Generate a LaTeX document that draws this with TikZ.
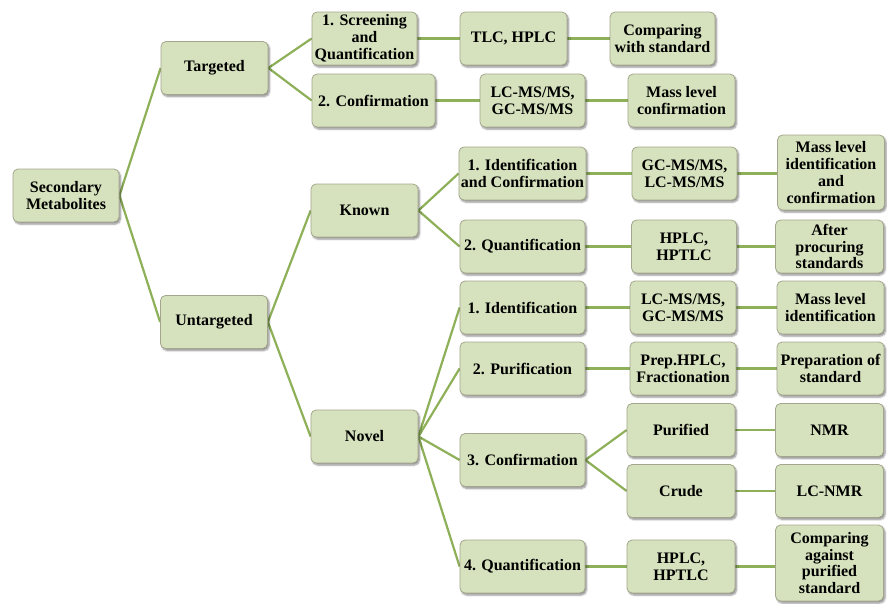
\documentclass[tikz,border=0pt]{standalone}
\usepackage{fontspec}
\setmainfont{Liberation Serif}
\usepackage{tikz}
\usetikzlibrary{positioning,shadows.blur,backgrounds}
\definecolor{Sage}{HTML}{D6E2BD}
\definecolor{Rim}{HTML}{A3A68C}
\definecolor{Olive}{HTML}{8DB058}
\tikzset{
  box/.style={draw=Rim,line width=0.8pt,fill=Sage,rounded corners=5pt,minimum height=53pt,minimum width=107pt,align=center,inner xsep=2pt,inner ysep=1pt,text=black,font=\bfseries\fontsize{16}{16.8}\selectfont,blur shadow={shadow xshift=1.5pt,shadow yshift=-2pt,shadow blur steps=5,shadow opacity=45}},
  wide/.style={box,minimum width=125pt},
  link/.style={draw=Olive,line width=2.2pt}
}
\begin{document}
\begin{tikzpicture}[x=1pt,y=-1pt]
\useasboundingbox (0,0) rectangle (887,603);
% root and first level
\node[box,minimum width=106pt] (sec) at (66,195.5) {Secondary\\Metabolites};
\node[box] (tgt) at (214.5,68) {Targeted};
\node[box] (utg) at (214,322) {Untargeted};
% targeted branch
\node[box,minimum width=105pt] (tsq) at (364.5,38.5) {1. Screening\\and\\Quantification};
\node[box,minimum width=123pt] (tcf) at (373.5,100.5) {2. Confirmation};
\node[box] (tlc) at (513.5,38.5) {TLC, HPLC};
\node[box,minimum width=105pt] (tms) at (532.5,100.5) {LC-MS/MS,\\GC-MS/MS};
\node[box,minimum width=105pt] (tcmp) at (662.5,38.5) {Comparing\\with standard};
\node[box] (tmlc) at (681.5,100.5) {Mass level\\confirmation};
% untargeted: known / novel
\node[box] (kno) at (364.5,210.5) {Known};
\node[box] (nov) at (364.5,436.5) {Novel};
% known branch
\node[wide] (kic) at (522.5,173.5) {1. Identification\\and Confirmation};
\node[box,minimum width=105pt] (kms) at (684.5,173.5) {GC-MS/MS,\\LC-MS/MS};
\node[box,minimum height=75pt] (kml) at (831,172.5) {Mass level\\identification\\and\\confirmation};
\node[wide] (kqn) at (522.5,246.5) {2. Quantification};
\node[box,minimum width=105pt] (khp) at (684,246.5) {HPLC,\\HPTLC};
\node[box,minimum width=108pt] (kap) at (829.5,246.5) {After\\procuring\\standards};
% novel branch
\node[wide] (nid) at (522.5,307.5) {1. Identification};
\node[box,minimum width=106pt] (nms) at (683,307.5) {LC-MS/MS,\\GC-MS/MS};
\node[box] (nml) at (830.5,307.5) {Mass level\\identification};
\node[wide] (npu) at (522.5,368.5) {2. Purification};
\node[box,minimum width=106pt] (npr) at (683,368.5) {Prep.HPLC,\\Fractionation};
\node[box] (nps) at (830.5,368.5) {Preparation of\\standard};
\node[wide] (ncf) at (522.5,460) {3. Confirmation};
\node[box,minimum width=108pt] (npf) at (681,430) {Purified};
\node[box,minimum width=108pt] (nnmr) at (829.5,430) {NMR};
\node[box,minimum width=108pt] (ncr) at (681,491) {Crude};
\node[box,minimum width=108pt] (nlc) at (829.5,491) {LC-NMR};
\node[wide] (nqn) at (522.5,566.5) {4. Quantification};
\node[box,minimum width=108pt] (nhp) at (681,566.5) {HPLC,\\HPTLC};
\node[box,minimum width=108pt,minimum height=76pt] (ncp) at (829.5,563) {Comparing\\against\\purified\\standard};
% connectors
\begin{scope}[on background layer]
\draw[link] (sec.east)--(tgt.west);\draw[link] (sec.east)--(utg.west);
\draw[link] (tgt.east)--(tsq.west);\draw[link] (tgt.east)--(tcf.west);
\draw[link] (tsq)--(tlc);\draw[link] (tlc)--(tcmp);
\draw[link] (tcf)--(tms);\draw[link] (tms)--(tmlc);
\draw[link] (utg.east)--(kno.west);\draw[link] (utg.east)--(nov.west);
\draw[link] (kno.east)--(kic.west);\draw[link] (kno.east)--(kqn.west);
\draw[link] (kic)--(kms);\draw[link] (kms.east)--(kml.west|-kms.east);
\draw[link] (kqn)--(khp);\draw[link] (khp)--(kap);
\draw[link] (nov.east)--(nid.west);\draw[link] (nov.east)--(npu.west);
\draw[link] (nov.east)--(ncf.west);\draw[link] (nov.east)--(nqn.west);
\draw[link] (nid)--(nms);\draw[link] (nms)--(nml);
\draw[link] (npu)--(npr);\draw[link] (npr)--(nps);
\draw[link] (ncf.east)--(npf.west);\draw[link] (ncf.east)--(ncr.west);
\draw[link] (npf)--(nnmr);\draw[link] (ncr)--(nlc);
\draw[link] (nqn)--(nhp);\draw[link] (nhp.east)--(ncp.west|-nhp.east);
\end{scope}
\end{tikzpicture}
\end{document}
